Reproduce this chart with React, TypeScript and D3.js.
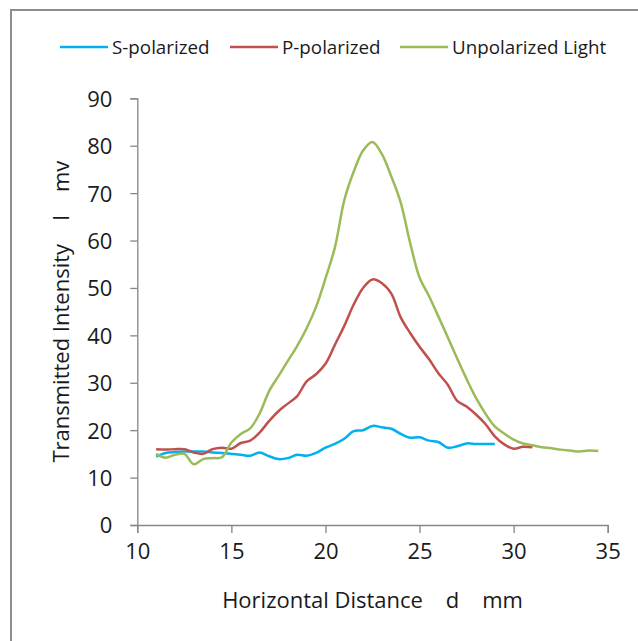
import React, { useEffect, useRef } from 'react'
import * as d3 from 'd3'

// distance d (mm) vs transmitted intensity (mv)
const sDist = [11, 11.5, 12, 12.5, 13, 13.5, 14, 14.5, 15, 15.5, 16, 16.5, 17, 17.5, 18, 18.5, 19, 19.5, 20, 20.5, 21, 21.5, 22, 22.5, 23, 23.5, 24, 24.5, 25, 25.5, 26, 26.5, 27, 27.5, 28, 28.5, 29]
const sValues = [14.4, 15.2, 15.4, 15.5, 15.5, 15.5, 15.3, 15.2, 15.0, 14.8, 14.6, 15.3, 14.5, 13.9, 14.1, 14.8, 14.6, 15.2, 16.3, 17.1, 18.2, 19.8, 20.0, 20.9, 20.6, 20.3, 19.2, 18.4, 18.5, 17.8, 17.5, 16.3, 16.6, 17.2, 17.1, 17.1, 17.1]

const pDist = [11, 11.5, 12, 12.5, 13, 13.5, 14, 14.5, 15, 15.5, 16, 16.5, 17, 17.5, 18, 18.5, 19, 19.5, 20, 20.5, 21, 21.5, 22, 22.5, 23, 23.5, 24, 24.5, 25, 25.5, 26, 26.5, 27, 27.5, 28, 28.5, 29, 29.5, 30, 30.5, 31]
const pValues = [16.0, 15.9, 16.0, 16.0, 15.3, 15.0, 16.0, 16.3, 16.1, 17.3, 17.8, 19.5, 21.9, 24.0, 25.6, 27.2, 30.3, 31.8, 34.0, 38.0, 42.0, 46.5, 50.0, 51.8, 51.0, 48.8, 43.8, 40.5, 37.6, 35.0, 32.0, 29.6, 26.2, 25.0, 23.3, 21.3, 18.7, 17.0, 16.1, 16.5, 16.4]

const uDist = [11, 11.5, 12, 12.5, 13, 13.5, 14, 14.5, 15, 15.5, 16, 16.5, 17, 17.5, 18, 18.5, 19, 19.5, 20, 20.5, 21, 21.5, 22, 22.5, 23, 23.5, 24, 24.5, 25, 25.5, 26, 26.5, 27, 27.5, 28, 28.5, 29, 29.5, 30, 30.5, 31, 31.5, 32, 32.5, 33, 33.5, 34, 34.5]
const uValues = [15.0, 14.2, 14.8, 15.0, 12.8, 13.9, 14.1, 14.3, 17.4, 19.2, 20.4, 23.5, 28.2, 31.4, 34.6, 37.8, 41.5, 46.0, 52.0, 58.5, 68.5, 74.5, 79.0, 80.8, 78.2, 73.5, 68.0, 59.5, 52.2, 48.3, 44.0, 39.6, 35.1, 30.8, 26.8, 23.5, 20.8, 19.3, 18.0, 17.2, 16.8, 16.4, 16.2, 15.9, 15.7, 15.5, 15.7, 15.6]

const seriesNames = ['S-polarized', 'P-polarized', 'Unpolarized Light']
const seriesColors = ['#00b0f0', '#c0504d', '#9bbb59']

const xTicks = [10, 15, 20, 25, 30, 35]
const yTicks = [0, 10, 20, 30, 40, 50, 60, 70, 80, 90]

const font = "'Open Sans', sans-serif"
const axisColor = '#868686'

const App = () => {
    const ref = useRef<SVGSVGElement>(null)

    useEffect(() => {
        const svg = d3.select(ref.current)
        svg.selectAll('*').remove()

        const x = d3.scaleLinear().domain([10, 35]).range([137.3, 607.7])
        const y = d3.scaleLinear().domain([0, 90]).range([525, 98.3])

        // outer chart frame (runs off the right and bottom edge)
        svg.append('rect')
            .attr('x', 11).attr('y', 10)
            .attr('width', 700).attr('height', 700)
            .attr('fill', 'white')
            .attr('stroke', '#8c8c8c')
            .attr('stroke-width', 2)

        const xAxis = svg.append('g')
            .attr('transform', `translate(0, ${y(0)})`)
            .call(d3.axisBottom(x).tickValues(xTicks).tickSize(8).tickPadding(10))
        const yAxis = svg.append('g')
            .attr('transform', `translate(${x(10)}, 0)`)
            .call(d3.axisLeft(y).tickValues(yTicks).tickSize(7).tickPadding(18))

        for (const g of [xAxis, yAxis]) {
            g.select('.domain').attr('stroke', axisColor).attr('stroke-width', 1.3)
            g.selectAll('.tick line').attr('stroke', axisColor).attr('stroke-width', 1.3)
            g.selectAll('.tick text')
                .attr('fill', '#1a1a1a')
                .style('font-family', font)
                .style('font-size', '22px')
        }
        yAxis.selectAll('.tick text').attr('dy', '0.36em')

        const allSeries = [
            sDist.map((d, i) => [d, sValues[i]]),
            pDist.map((d, i) => [d, pValues[i]]),
            uDist.map((d, i) => [d, uValues[i]]),
        ]

        const line = d3.line<number[]>()
            .x(d => x(d[0]))
            .y(d => y(d[1]))
            .curve(d3.curveCatmullRom.alpha(0.5))

        allSeries.forEach((pts, i) => {
            svg.append('path')
                .datum(pts)
                .attr('fill', 'none')
                .attr('stroke', seriesColors[i])
                .attr('stroke-width', 2.5)
                .attr('stroke-linejoin', 'round')
                .attr('d', line)
        })

        // legend
        const legendX = [60, 230, 400]
        seriesNames.forEach((name, i) => {
            const g = svg.append('g').attr('transform', `translate(${legendX[i]}, 47)`)
            g.append('line')
                .attr('x1', 0).attr('x2', 48)
                .attr('stroke', seriesColors[i])
                .attr('stroke-width', 2.5)
            g.append('text')
                .attr('x', 52)
                .attr('dy', '0.35em')
                .attr('fill', '#1a1a1a')
                .style('font-family', font)
                .style('font-size', '18.8px')
                .text(name)
        })

        svg.append('text')
            .attr('x', (x(10) + x(35)) / 2)
            .attr('y', 608)
            .attr('text-anchor', 'middle')
            .attr('fill', '#1a1a1a')
            .style('font-family', font)
            .style('font-size', '22px')
            .style('white-space', 'pre')
            .text('Horizontal Distance    d    mm')

        svg.append('text')
            .attr('transform', `translate(69, ${(y(0) + y(90)) / 2}) rotate(-90)`)
            .attr('text-anchor', 'middle')
            .attr('fill', '#1a1a1a')
            .style('font-family', font)
            .style('font-size', '22px')
            .style('white-space', 'pre')
            .text('Transmitted Intensity    I    mv')
    }, [])

    return (
        <svg ref={ref} width={638} height={641}
            style={{ position: 'absolute', left: 0, top: 0, background: 'white' }} />
    )
}

export default App
